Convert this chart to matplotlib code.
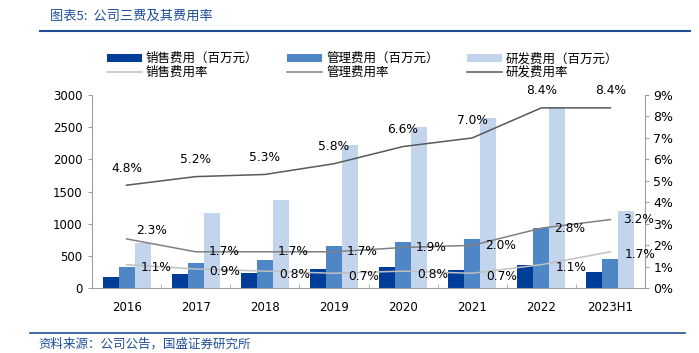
import numpy as np
import matplotlib
matplotlib.use("Agg")
import matplotlib.pyplot as plt
from matplotlib.lines import Line2D

plt.rcParams['font.family'] = ['DejaVu Sans', 'Noto Sans CJK SC']

# data
years = ['2016', '2017', '2018', '2019', '2020', '2021', '2022', '2023H1']
sales = [172, 218, 234, 296, 326, 285, 368, 259]
admin = [330, 395, 442, 664, 720, 762, 932, 456]
rnd = [700, 1176, 1372, 2220, 2504, 2648, 2810, 1206]
sales_rate = [1.1, 0.9, 0.8, 0.7, 0.8, 0.7, 1.1, 1.7]
admin_rate = [2.3, 1.7, 1.7, 1.7, 1.9, 2.0, 2.8, 3.2]
rnd_rate = [4.8, 5.2, 5.3, 5.8, 6.6, 7.0, 8.4, 8.4]

c_sales = '#003d99'
c_admin = '#4f86c6'
c_rnd = '#c3d5ec'
l_sales = '#c0c0c0'
l_admin = '#808080'
l_rnd = '#595959'
navy = '#1f4e9a'

fig = plt.figure(figsize=(6.99, 3.53), dpi=100)
ax = fig.add_axes([92/699, 1-288.3/353, 553/699, 193.3/353])
ax2 = ax.twinx()

x = np.arange(len(years))
w = 0.232
ax.bar(x - w, sales, w, color=c_sales, label='销售费用（百万元）')
ax.bar(x, admin, w, color=c_admin, label='管理费用（百万元）')
ax.bar(x + w, rnd, w, color=c_rnd, label='研发费用（百万元）')

ax2.plot(x, sales_rate, color=l_sales, lw=1.1, label='销售费用率')
ax2.plot(x, admin_rate, color=l_admin, lw=1.1, label='管理费用率')
ax2.plot(x, rnd_rate, color=l_rnd, lw=1.1, label='研发费用率')

ax.set_xlim(-0.5, len(years) - 0.5)
ax.set_ylim(0, 3000)
ax.set_yticks(range(0, 3001, 500))
ax2.set_ylim(0, 9)
ax2.set_yticks(range(0, 10))
ax2.set_yticklabels([f'{v}%' for v in range(0, 10)])

ax.set_xticks(x)
ax.set_xticklabels(years)
ax.set_xticks(np.arange(len(years) - 1) + 0.5, minor=True)
ax.tick_params(axis='x', which='major', length=0, pad=9, labelsize=8.5)
ax.tick_params(axis='x', which='minor', direction='in', length=3, color='#a0a0a0')
ax.tick_params(axis='y', length=3, color='#a0a0a0', labelsize=8.5, pad=4)
ax2.tick_params(axis='y', length=3, color='#a0a0a0', labelsize=9, pad=3)

for a in (ax, ax2):
    a.spines['top'].set_visible(False)
    for s in ('left', 'right', 'bottom'):
        a.spines[s].set_color('#a0a0a0')
ax.spines['right'].set_visible(False)
ax2.spines['left'].set_visible(False)
ax2.spines['bottom'].set_visible(False)

# data labels
for i in range(len(years)):
    ax2.annotate(f'{rnd_rate[i]:.1f}%', (x[i], rnd_rate[i]), xytext=(0, 17),
                 textcoords='offset pixels', ha='center', va='center', fontsize=8.8)
    dy = 8 if i == 0 else 0
    dx = 10 if i == 0 else 13
    ax2.annotate(f'{admin_rate[i]:.1f}%', (x[i], admin_rate[i]), xytext=(dx, dy),
                 textcoords='offset pixels', ha='left', va='center', fontsize=8.8)
    ax2.annotate(f'{sales_rate[i]:.1f}%', (x[i], sales_rate[i]), xytext=(14, -3),
                 textcoords='offset pixels', ha='left', va='center', fontsize=8.8)

# legend
h1, lab1 = ax.get_legend_handles_labels()
h2, lab2 = ax2.get_legend_handles_labels()
handles = [h1[0], h2[0], h1[1], h2[1], h1[2], h2[2]]
labels = [lab1[0], lab2[0], lab1[1], lab2[1], lab1[2], lab2[2]]
fig.legend(handles, labels, loc='upper left', bbox_to_anchor=(96/699, 1-41/353),
           ncol=3, frameon=False, handlelength=2.8, handleheight=0.65,
           handletextpad=0.3, columnspacing=2.3, labelspacing=0.05,
           prop={'family': 'Noto Sans CJK SC', 'size': 9})

# title and footer
fig.text(50/699, 1-16/353, '图表5:  公司三费及其费用率', color=navy, fontsize=9.5,
         style='italic', va='center', family=['Noto Sans CJK SC'])
fig.add_artist(Line2D([40/699, 690/699], [1-31/353, 1-31/353], color=navy, lw=1.5))
fig.add_artist(Line2D([30/699, 685/699], [1-333/353, 1-333/353], color=navy, lw=1.2))
fig.text(38/699, 1-344/353, '资料来源：公司公告，国盛证券研究所', color=navy, fontsize=9,
         style='italic', va='center', family=['Noto Sans CJK SC'])

fig.savefig('out.png', dpi=100)
